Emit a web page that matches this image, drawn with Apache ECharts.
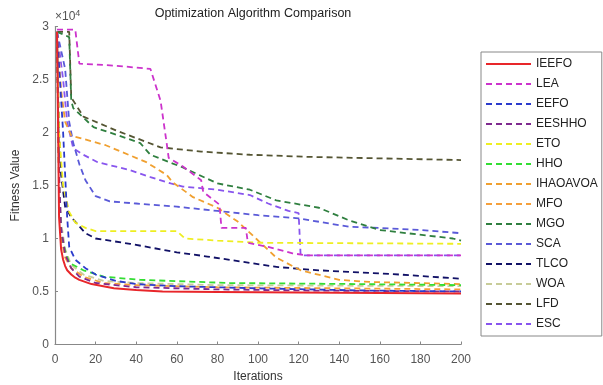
<!DOCTYPE html>
<html><head><meta charset="utf-8">
<script src="https://cdn.jsdelivr.net/npm/echarts@6/dist/echarts.min.js"></script>
<style>html,body{margin:0;padding:0;background:#fff}#c{width:603px;height:385px}</style>
</head><body><div id="c"></div>
<script>
const seriesNames = ['IEEFO','LEA','EEFO','EESHHO','ETO','HHO','IHAOAVOA','MFO','MGO','SCA','TLCO','WOA','LFD','ESC'];
const xTicks = [0,20,40,60,80,100,120,140,160,180,200];
const yTicks = [0,5000,10000,15000,20000,25000,30000];

const IEEFO = [[1,29500],[2,12000],[3,9000],[4,8000],[5,7400],[6,7000],[8,6600],[10,6300],[12,6100],[18,5700],[29,5300],[40,5150],[53,5000],[80,4950],[120,4900],[200,4800]];
const LEA = [[1,29700],[10,29700],[12,26500],[30,26300],[47,26000],[52,23000],[55,19000],[56,17600],[63,16800],[72,15500],[73,14400],[81,13200],[82,11000],[94,11000],[95,9600],[105,9200],[117,8600],[124,8400],[200,8400]];
const EEFO = [[1,29500],[4,20000],[6,12000],[7,9200],[10,8000],[15,7200],[20,6600],[30,6000],[40,5700],[60,5500],[100,5300],[150,5100],[200,5000]];
const EESHHO = [[1,29000],[2,16000],[3,11000],[5,8500],[8,7200],[12,6400],[20,5800],[40,5400],[80,5200],[120,5100],[200,5000]];
const ETO = [[1,29500],[2,20000],[4,15000],[7,12500],[10,11500],[15,11000],[20,10700],[60,10700],[64,10000],[80,9800],[100,9600],[200,9500]];
const HHO = [[1,29000],[2,15000],[3,10500],[5,8800],[7,7700],[14,7000],[24,6400],[42,6100],[86,5800],[150,5700],[200,5600]];
const IHAOAVOA = [[1,29500],[3,24000],[5,21000],[8,19700],[12,19500],[25,18800],[45,17200],[55,16000],[58,15300],[68,13900],[80,12900],[90,11600],[99,10000],[109,8200],[121,7000],[140,6100],[155,5900],[200,5700]];
const MFO = [[1,29000],[2,14000],[3,10000],[5,8200],[8,7200],[14,6400],[24,5800],[40,5600],[80,5400],[140,5300],[200,5200]];
const MGO = [[1,29500],[7,29000],[8,23000],[9,22300],[19,20500],[30,19800],[42,19000],[47,17900],[63,16700],[80,15200],[96,14600],[109,13600],[130,12900],[145,11700],[160,10800],[196,10000],[200,9800]];
const SCA = [[1,29500],[5,26000],[7,21000],[9,19000],[12,17000],[15,15500],[20,14000],[27,13500],[40,13300],[60,13000],[80,12600],[100,12200],[120,11900],[145,11100],[160,11000],[180,10800],[200,10500]];
const TLCO = [[1,29500],[2,20000],[3,16000],[5,13000],[8,12000],[15,10500],[20,10000],[37,9500],[60,8700],[75,8300],[110,7300],[130,7000],[170,6600],[200,6200]];
const WOA = [[1,29000],[2,16000],[3,11500],[5,9000],[8,7500],[14,6600],[24,6000],[40,5800],[80,5600],[200,5500]];
const LFD = [[1,29500],[7,29500],[8,23300],[14,21500],[30,20200],[52,18600],[72,18200],[96,17900],[125,17700],[200,17400]];
const ESC = [[1,29500],[4,25000],[6,21000],[9,18500],[14,17900],[21,17200],[36,16500],[47,15800],[57,15200],[63,14900],[80,14600],[96,14100],[105,13300],[115,12600],[120,12400],[121,8400],[200,8400]];

const seriesData = [IEEFO,LEA,EEFO,EESHHO,ETO,HHO,IHAOAVOA,MFO,MGO,SCA,TLCO,WOA,LFD,ESC];
const colors = ['#e8262a','#cc33cc','#2b3bcc','#7f2a8f','#eeee22','#33dd33','#f0a030','#f5a03c','#2f7f3f','#5a5ad8','#111166','#c8cc99','#555533','#8855ee'];

const chart = echarts.init(document.getElementById('c'), null, {renderer:'canvas'});
const FONT = 'Liberation Sans, Arial, sans-serif';
chart.setOption({
  animation:false,
  backgroundColor:'#fff',
  grid:{left:55,right:142,top:26.5,bottom:40.5,containLabel:false,outerBoundsMode:'none'},
  xAxis:{type:'value',min:0,max:200,interval:20,
    name:'Iterations',nameLocation:'middle',nameGap:26,
    nameTextStyle:{color:'#333',fontSize:12,fontFamily:FONT},
    axisLine:{lineStyle:{color:'#888',width:1.2}},
    axisTick:{inside:true,length:3,lineStyle:{color:'#888'}},
    axisLabel:{color:'#555',fontSize:12,fontFamily:FONT,margin:9},
    splitLine:{show:false}},
  yAxis:{type:'value',min:0,max:30000,interval:5000,
    name:'Fitness Value',nameLocation:'middle',nameGap:27,nameRotate:90,
    nameTextStyle:{color:'#333',fontSize:12,fontFamily:FONT},
    axisLine:{show:true,lineStyle:{color:'#888',width:1.2}},
    axisTick:{show:true,inside:true,length:3,lineStyle:{color:'#888'}},
    axisLabel:{color:'#555',fontSize:12,fontFamily:FONT,margin:6,formatter:v=>String(v/10000)},
    splitLine:{show:false}},
  legend:{orient:'vertical',left:481,top:52,padding:[6,4,6,4],itemGap:8,itemWidth:45,itemHeight:14,
    borderColor:'#888',borderWidth:1,backgroundColor:'#fff',
    itemStyle:{opacity:0},
    lineStyle:{width:2},
    textStyle:{color:'#222',fontSize:12,fontFamily:FONT},
    data:seriesNames},
  graphic:[
    {type:'text',x:253,y:14,style:{text:'Optimization Algorithm Comparison',fontSize:12.5,fontFamily:FONT,fill:'#222',align:'center',verticalAlign:'middle'}},
    {type:'text',x:55,y:17,style:{text:'×10{s|4}',rich:{s:{fontSize:9,verticalAlign:'top',padding:[0,0,6,0],fontFamily:FONT,fill:'#555'}},fontSize:12,fontFamily:FONT,fill:'#555',verticalAlign:'middle'}}
  ],
  series:seriesNames.map((n,i)=>({
    name:n,type:'line',data:seriesData[i],symbol:'none',showSymbol:false,
    z: 2 + (seriesNames.length - i),
    lineStyle:{color:colors[i],width:i===0?2:1.8,type:i===0?'solid':[6,4]},
    itemStyle:{color:colors[i]}
  }))
});
</script></body></html>
